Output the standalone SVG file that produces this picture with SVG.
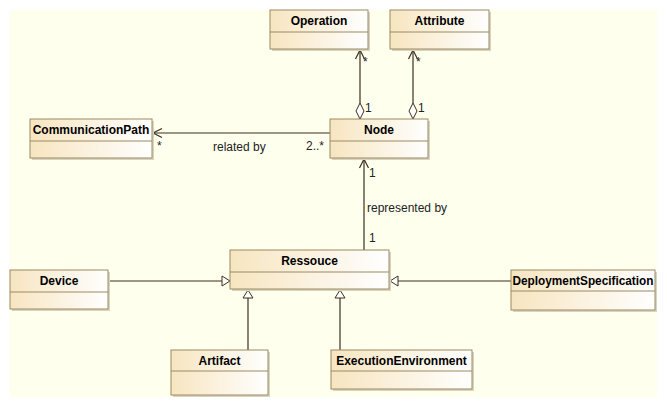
<svg xmlns="http://www.w3.org/2000/svg" width="667" height="407" viewBox="0 0 667 407">
<defs>
<linearGradient id="g" x1="0" y1="0" x2="1" y2="0">
<stop offset="0" stop-color="#F7E5C0"/>
<stop offset="1" stop-color="#FFFFFF"/>
</linearGradient>
<style>
.box{fill:url(#g);stroke:#9C8A60;stroke-width:1}
.sh{fill:#D8D4C0}
.div{stroke:#9C8A60;stroke-width:1}
.t{font-family:"Liberation Sans",Arial,sans-serif;font-size:12px;font-weight:bold;fill:#000;text-anchor:middle}
.l{font-family:"Liberation Sans",Arial,sans-serif;font-size:12px;fill:#222}
.c{stroke:#3C2F1E;stroke-width:1.2;fill:none}
.tri{stroke:#3C2F1E;stroke-width:1;fill:#FFFFFF}
</style>
</defs>
<rect x="0" y="0" width="667" height="407" fill="#FFFFFF"/>
<rect x="10" y="10" width="647" height="387" fill="#FFFFEE"/>

<g id="connectors">
<!-- Operation - Node -->
<line class="c" x1="360" y1="50" x2="360" y2="103"/>
<polyline class="c" points="355.5,59 360,50 364.5,59"/>
<polygon class="tri" points="360,103 364,111 360,119 356,111"/>
<!-- Attribute - Node -->
<line class="c" x1="413" y1="50" x2="413" y2="103"/>
<polyline class="c" points="408.5,59 413,50 417.5,59"/>
<polygon class="tri" points="413,103 417,111 413,119 409,111"/>
<!-- Node - CommunicationPath -->
<line class="c" x1="330" y1="133" x2="153" y2="133"/>
<polyline class="c" points="162,128.5 153,133 162,137.5"/>
<!-- Node - Ressouce -->
<line class="c" x1="364" y1="250" x2="364" y2="159"/>
<polyline class="c" points="359.5,168 364,159 368.5,168"/>
<!-- Device -> Ressouce -->
<line class="c" x1="108" y1="281" x2="222" y2="281"/>
<polygon class="tri" points="222,276 230,281 222,286"/>
<!-- DeploymentSpecification -> Ressouce -->
<line class="c" x1="511" y1="281" x2="398" y2="281"/>
<polygon class="tri" points="398,276 390,281 398,286"/>
<!-- Artifact -> Ressouce -->
<line class="c" x1="248" y1="350" x2="248" y2="298"/>
<polygon class="tri" points="243,298 248,290 253,298"/>
<!-- ExecutionEnvironment -> Ressouce -->
<line class="c" x1="340" y1="350" x2="340" y2="298"/>
<polygon class="tri" points="335,298 340,290 345,298"/>
<!-- labels -->
<text class="l" x="363" y="66">*</text>
<text class="l" x="365" y="112">1</text>
<text class="l" x="416" y="66">*</text>
<text class="l" x="418" y="112">1</text>
<text class="l" x="157" y="150">*</text>
<text class="l" x="213" y="151">related by</text>
<text class="l" x="306" y="150">2..*</text>
<text class="l" x="369" y="177">1</text>
<text class="l" x="367" y="212">represented by</text>
<text class="l" x="369" y="242">1</text>
</g>

<g id="Operation">
<rect class="sh" x="272" y="12" width="98" height="39"/>
<rect class="box" x="270" y="10" width="98" height="39"/>
<line class="div" x1="270" y1="32" x2="368" y2="32"/>
<text class="t" x="319" y="25">Operation</text>
</g>
<g id="Attribute">
<rect class="sh" x="392" y="12" width="99" height="39"/>
<rect class="box" x="390" y="10" width="99" height="39"/>
<line class="div" x1="390" y1="32" x2="489" y2="32"/>
<text class="t" x="439.5" y="25">Attribute</text>
</g>
<g id="CommunicationPath">
<rect class="sh" x="32" y="121" width="122" height="39"/>
<rect class="box" x="30" y="119" width="122" height="39"/>
<line class="div" x1="30" y1="141" x2="152" y2="141"/>
<text class="t" x="91" y="134">CommunicationPath</text>
</g>
<g id="Node">
<rect class="sh" x="332" y="121" width="98" height="39"/>
<rect class="box" x="330" y="119" width="98" height="39"/>
<line class="div" x1="330" y1="141" x2="428" y2="141"/>
<text class="t" x="379" y="134">Node</text>
</g>
<g id="Ressouce">
<rect class="sh" x="232" y="252" width="159" height="39"/>
<rect class="box" x="230" y="250" width="159" height="39"/>
<line class="div" x1="230" y1="272" x2="389" y2="272"/>
<text class="t" x="309.5" y="265">Ressouce</text>
</g>
<g id="Device">
<rect class="sh" x="12" y="272" width="98" height="39"/>
<rect class="box" x="10" y="270" width="98" height="39"/>
<line class="div" x1="10" y1="292" x2="108" y2="292"/>
<text class="t" x="59" y="285">Device</text>
</g>
<g id="DeploymentSpecification">
<rect class="sh" x="513" y="272" width="144" height="40"/>
<rect class="box" x="511" y="270" width="144" height="40"/>
<line class="div" x1="511" y1="291" x2="655" y2="291"/>
<text class="t" x="583" y="285" textLength="141" lengthAdjust="spacingAndGlyphs">DeploymentSpecification</text>
</g>
<g id="Artifact">
<rect class="sh" x="173" y="352" width="97" height="45"/>
<rect class="box" x="171" y="350" width="97" height="45"/>
<line class="div" x1="171" y1="371" x2="268" y2="371"/>
<text class="t" x="219.5" y="365">Artifact</text>
</g>
<g id="ExecutionEnvironment">
<rect class="sh" x="333" y="352" width="141" height="39"/>
<rect class="box" x="331" y="350" width="141" height="39"/>
<line class="div" x1="331" y1="371" x2="472" y2="371"/>
<text class="t" x="401.5" y="365">ExecutionEnvironment</text>
</g>
</svg>
